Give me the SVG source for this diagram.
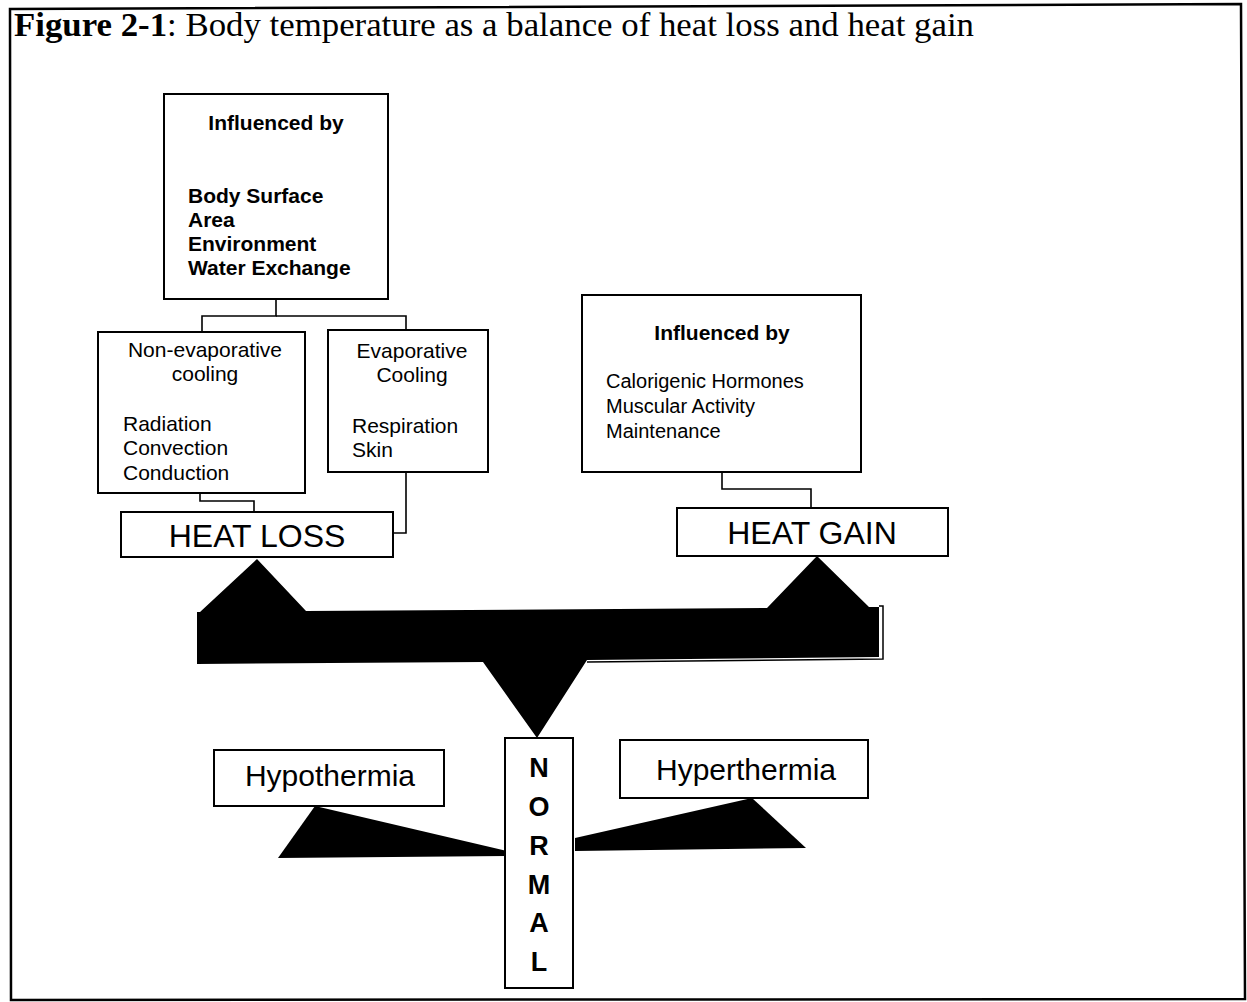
<svg xmlns="http://www.w3.org/2000/svg" width="1247" height="1002" viewBox="0 0 1247 1002">
<style>
.frame{fill:none;stroke:#000;stroke-width:2.5}
.box{fill:#fff;stroke:#000;stroke-width:2}
.conn{fill:none;stroke:#000;stroke-width:1.6}
.solid{fill:#000;stroke:none}
.t{font-family:"Liberation Sans",Arial,sans-serif;fill:#000}
.b{font-weight:bold}
.f21{font-size:21px}
.f20{font-size:20px}
.big{font-size:32px}
.mid{font-size:30px}
.let{font-size:27px;font-weight:bold}
.title{font-family:"Liberation Serif","Times New Roman",serif;font-size:34px;fill:#000}
</style>
<rect x="0" y="0" width="1247" height="1002" fill="#fff"/>
<path class="frame" d="M10,9 L1241,4 L1245,999 L11,1000 Z"/>
<text class="title" x="14" y="36" textLength="960" lengthAdjust="spacingAndGlyphs"><tspan font-weight="bold">Figure 2-1</tspan>: Body temperature as a balance of heat loss and heat gain</text>

<g id="connectors">
<polyline class="conn" points="276,299 276,316 202,316 202,332"/>
<polyline class="conn" points="276,316 406,316 406,330"/>
<polyline class="conn" points="200,493 200,501 254,501 254,512"/>
<polyline class="conn" points="406,472 406,533 393,533"/>
<polyline class="conn" points="722,472 722,489 811,489 811,508"/>
</g>

<g id="loss-influences">
<rect class="box" x="164" y="94" width="224" height="205"/>
<text class="t b f21" x="276" y="130" text-anchor="middle">Influenced by</text>
<text class="t b f21" x="188" y="203">Body Surface</text>
<text class="t b f21" x="188" y="227">Area</text>
<text class="t b f21" x="188" y="251">Environment</text>
<text class="t b f21" x="188" y="275">Water Exchange</text>
</g>

<g id="non-evaporative">
<rect class="box" x="98" y="332" width="207" height="161"/>
<text class="t f21" x="205" y="357" text-anchor="middle">Non-evaporative</text>
<text class="t f21" x="205" y="381" text-anchor="middle">cooling</text>
<text class="t f21" x="123" y="431">Radiation</text>
<text class="t f21" x="123" y="455">Convection</text>
<text class="t f21" x="123" y="480">Conduction</text>
</g>

<g id="evaporative">
<rect class="box" x="328" y="330" width="160" height="142"/>
<text class="t f21" x="412" y="358" text-anchor="middle">Evaporative</text>
<text class="t f21" x="412" y="382" text-anchor="middle">Cooling</text>
<text class="t f21" x="352" y="433">Respiration</text>
<text class="t f21" x="352" y="457">Skin</text>
</g>

<g id="heat-loss">
<rect class="box" x="121" y="512" width="272" height="45"/>
<text class="t big" x="257" y="547" text-anchor="middle">HEAT LOSS</text>
</g>

<g id="gain-influences">
<rect class="box" x="582" y="295" width="279" height="177"/>
<text class="t b f21" x="722" y="340" text-anchor="middle">Influenced by</text>
<text class="t f20" x="606" y="388">Calorigenic Hormones</text>
<text class="t f20" x="606" y="413">Muscular Activity</text>
<text class="t f20" x="606" y="438">Maintenance</text>
</g>

<g id="heat-gain">
<rect class="box" x="677" y="508" width="271" height="48"/>
<text class="t big" x="812" y="544" text-anchor="middle">HEAT GAIN</text>
</g>

<g id="balance">
<polygon class="solid" points="197,612 200,612 257,559 306,611 767,608 817,556 869,607 879,607 879,657 587,660 537,738 483,662 197,664"/>
<polyline fill="none" stroke="#000" stroke-width="1.5" points="879,606 883,606 883,659 587,662"/>
</g>

<g id="hypothermia">
<rect class="box" x="214" y="750" width="230" height="56"/>
<text class="t mid" x="330" y="786" text-anchor="middle">Hypothermia</text>
<polygon class="solid" points="278,858 315,806 507,851 507,856"/>
</g>

<g id="hyperthermia">
<rect class="box" x="620" y="740" width="248" height="58"/>
<text class="t mid" x="746" y="780" text-anchor="middle">Hyperthermia</text>
<polygon class="solid" points="575,838 752,798 806,848 575,851"/>
</g>

<g id="normal">
<rect class="box" x="505" y="738" width="68" height="250"/>
<text class="t let" x="539" y="777" text-anchor="middle">N</text>
<text class="t let" x="539" y="816" text-anchor="middle">O</text>
<text class="t let" x="539" y="855" text-anchor="middle">R</text>
<text class="t let" x="539" y="894" text-anchor="middle">M</text>
<text class="t let" x="539" y="932" text-anchor="middle">A</text>
<text class="t let" x="539" y="971" text-anchor="middle">L</text>
</g>
</svg>
